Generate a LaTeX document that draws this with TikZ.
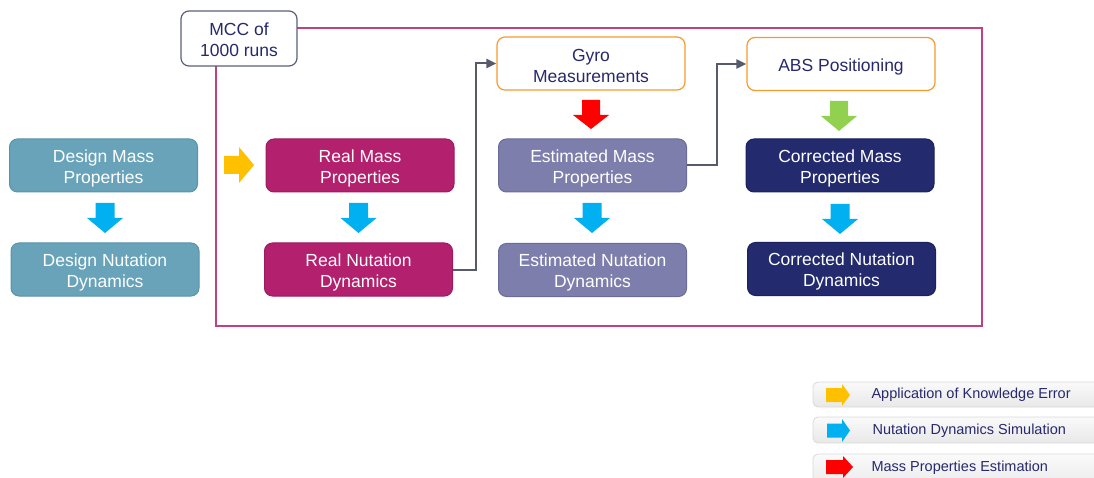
\documentclass[tikz,border=0pt]{standalone}
\usepackage{fontspec}
\setmainfont{Liberation Sans}
\usetikzlibrary{arrows.meta,calc}

\definecolor{navytext}{HTML}{27296D}
\definecolor{designfill}{HTML}{68A3BA}
\definecolor{designline}{HTML}{5A93AA}
\definecolor{realfill}{HTML}{B3206E}
\definecolor{realline}{HTML}{9C1B60}
\definecolor{estfill}{HTML}{7D7EAB}
\definecolor{estline}{HTML}{6B6C99}
\definecolor{corrfill}{HTML}{232A6D}
\definecolor{corrline}{HTML}{1B2159}
\definecolor{orangeline}{HTML}{F79A2E}
\definecolor{mccline}{HTML}{5B6078}
\definecolor{frameline}{HTML}{C2407E}
\definecolor{connline}{HTML}{555A6C}
\definecolor{arrblue}{HTML}{00B0F0}
\definecolor{arryellow}{HTML}{FFC000}
\definecolor{arrred}{HTML}{FF0000}
\definecolor{arrgreen}{HTML}{92D050}
\definecolor{legtop}{HTML}{FAFAFA}
\definecolor{legbot}{HTML}{E8E8E8}
\definecolor{legline}{HTML}{D9D9D9}

\tikzset{
  x=1pt, y=-1pt,
  box/.style={rounded corners=8pt, minimum width=188pt, minimum height=53pt, line width=1pt},
  % box caption, set slightly below the box centre
  txt/.style={align=center, font=\fontsize{17.5}{21}\selectfont, yshift=-2.5pt},
  wtxt/.style={txt, text=white},
  ntxt/.style={txt, text=navytext},
  designbox/.style={box, fill=designfill, draw=designline},
  realbox/.style={box, fill=realfill, draw=realline},
  estbox/.style={box, fill=estfill, draw=estline},
  corrbox/.style={box, fill=corrfill, draw=corrline},
  inputbox/.style={box, fill=white, draw=orangeline, line width=1.2pt},
  conn/.style={draw=connline, line width=2pt, -{Triangle[length=10pt,width=9pt]}},
  legendbox/.style={rounded corners=5pt, draw=legline, top color=legtop, bottom color=legbot, line width=0.8pt},
  legendtext/.style={anchor=west, text=navytext, font=\fontsize{14.5}{17}\selectfont},
  % block arrow pointing right: length, head start, shaft half width, head half width
  pics/rblock/.style n args={4}{code={
    \fill[pic actions] (0,-#3) -- (#2,-#3) -- (#2,-#4) -- (#1,0) -- (#2,#4) -- (#2,#3) -- (0,#3) -- cycle;}},
  % block arrow pointing down: length, head start, shaft half width, head half width
  pics/dblock/.style n args={4}{code={
    \fill[pic actions] (-#3,0) -- (-#3,#2) -- (-#4,#2) -- (0,#1) -- (#4,#2) -- (#3,#2) -- (#3,0) -- cycle;}},
}

\begin{document}
\begin{tikzpicture}
\useasboundingbox (0,0) rectangle (1094,478);

% Monte Carlo frame
\draw[frameline, line width=1.5pt] (216,28) rectangle (982,326);
\node[box, minimum width=116pt, minimum height=55pt, fill=white, draw=mccline, line width=1.2pt,
      label={[ntxt, yshift=1.5pt]center:MCC of\\1000 runs}] (mcc) at (239,38.5) {};

% design branch
\node[designbox, label={[wtxt]center:Design Mass\\Properties}] (dmp) at (103.5,165.5) {};
\node[designbox, label={[wtxt]center:Design Nutation\\Dynamics}] (dnd) at (105,269.5) {};

% real branch
\node[realbox, label={[wtxt]center:Real Mass\\Properties}] (rmp) at (360,165.5) {};
\node[realbox, label={[wtxt]center:Real Nutation\\Dynamics}] (rnd) at (358.5,269.5) {};

% estimation branch
\node[inputbox, label={[ntxt]center:Gyro\\Measurements}] (gyro) at (591,63.5) {};
\node[estbox, label={[wtxt]center:Estimated Mass\\Properties}] (emp) at (592.5,165.5) {};
\node[estbox, label={[wtxt]center:Estimated Nutation\\Dynamics}] (end) at (592.5,270) {};

% correction branch
\node[inputbox, label={[ntxt]center:ABS Positioning}] (abs) at (841,64) {};
\node[corrbox, label={[wtxt]center:Corrected Mass\\Properties}] (cmp) at (840,165.5) {};
\node[corrbox, label={[wtxt]center:Corrected Nutation\\Dynamics}] (cnd) at (841.5,269) {};

% connectors
\draw[conn] (rnd.east) -- ++(23,0) |- (gyro.west);
\draw[conn] (emp.east) -- ++(30,0) |- (abs.west);

% block arrows
\pic[fill=arryellow] at (224,165) {rblock={30}{15}{9}{18}};
\pic[fill=arrblue] at (105,203) {dblock={30}{15}{9.5}{18}};
\pic[fill=arrblue] at (358.5,203) {dblock={30}{15}{9.5}{18}};
\pic[fill=arrred] at (591,100) {dblock={29}{15}{9}{18}};
\pic[fill=arrblue] at (592,203) {dblock={30}{15}{9.5}{18}};
\pic[fill=arrgreen] at (839,101) {dblock={30}{15}{9}{18}};
\pic[fill=arrblue] at (840,204) {dblock={30}{15}{9.5}{18}};

% legend
\path[legendbox] (813,382) rectangle (1110,407);
\path[legendbox] (813,417) rectangle (1110,443);
\path[legendbox] (813,454) rectangle (1110,492);
\pic[fill=arryellow] at (826,395) {rblock={24}{16}{7}{11}};
\pic[fill=arrblue] at (827,430.5) {rblock={23}{15}{7}{11.5}};
\pic[fill=arrred] at (826,467) {rblock={27}{17}{7}{11}};
\node[legendtext] (l1) at (868,395) {Application of Knowledge Error};
\node[legendtext] (l2) at (869,430.5) {Nutation Dynamics Simulation};
\node[legendtext] (l3) at (868,467.5) {Mass Properties Estimation};
\end{tikzpicture}
\end{document}
